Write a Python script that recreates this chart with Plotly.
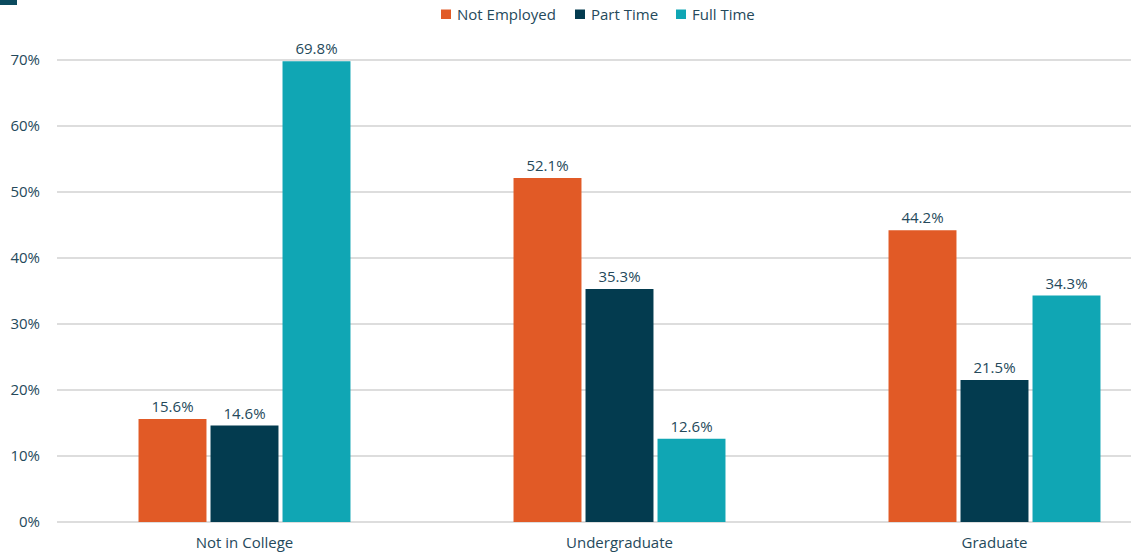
import plotly.graph_objects as go

categories = ["Not in College", "Undergraduate", "Graduate"]
not_employed = [15.6, 52.1, 44.2]
part_time = [14.6, 35.3, 21.5]
full_time = [69.8, 12.6, 34.3]
series_names = ["Not Employed", "Part Time", "Full Time"]
colors = ["#E15A26", "#033B4F", "#10A6B4"]
y_ticks = [0, 10, 20, 30, 40, 50, 60, 70]

W, H = 1131, 554
L, R, T, B = 57, 0, 48, 32
text_color = "#25495B"
font_family = "Open Sans"
FS = 15

fig = go.Figure()
for name, vals, col in zip(series_names, [not_employed, part_time, full_time], colors):
    fig.add_trace(go.Bar(
        x=categories, y=vals, name=name,
        marker=dict(color=col, line=dict(width=0)),
        text=[f"{v:.1f}%" for v in vals],
        textposition="outside",
        textfont=dict(family=font_family, size=FS, color=text_color),
        cliponaxis=False,
        showlegend=False,
    ))

plot_w = W - L - R
plot_h = H - T - B
slot = 375.0

def px_x(p):
    return (p - L) / plot_w

def px_y(p):
    return 1 - (p - T) / plot_h

# legend drawn as coloured squares + text labels (matching reference spacing)
legend_sq_left = [441, 575, 676]
legend_txt_left = [455, 589, 690]
shapes = [dict(type="rect", xref="paper", yref="paper", x0=px_x(0), x1=px_x(17),
               y0=px_y(5), y1=px_y(0), fillcolor="#0B4A5E", line=dict(width=0), layer="above")]
annotations = []
for name, col, sx, tx in zip(series_names, colors, legend_sq_left, legend_txt_left):
    shapes.append(dict(type="rect", xref="paper", yref="paper", x0=px_x(sx), x1=px_x(sx + 10),
                       y0=px_y(19), y1=px_y(9.5), fillcolor=col, line=dict(width=0), layer="above"))
    annotations.append(dict(text=name, xref="paper", yref="paper", x=px_x(tx), y=px_y(14.5),
                            xanchor="left", yanchor="middle", showarrow=False,
                            font=dict(family=font_family, size=FS, color=text_color)))

fig.update_layout(
    width=W, height=H,
    margin=dict(l=L, r=R, t=T, b=B, pad=0),
    paper_bgcolor="white", plot_bgcolor="white",
    barmode="group", bargap=0.424, bargroupgap=0.056,
    font=dict(family=font_family, size=FS, color=text_color),
    showlegend=False,
    xaxis=dict(range=[-0.5, -0.5 + plot_w / slot], showgrid=False, showline=False,
               ticks="", tickfont=dict(size=FS, color=text_color), ticklabelstandoff=10),
    yaxis=dict(range=[0, 71.8], tickvals=y_ticks, ticktext=[f"{t}%" for t in y_ticks],
               showgrid=True, gridcolor="#DDDDDD", gridwidth=1.5,
               zeroline=True, zerolinecolor="#DDDDDD", zerolinewidth=1.5,
               showline=False, ticks="", tickfont=dict(size=FS, color=text_color),
               ticklabelstandoff=16),
    shapes=shapes,
    annotations=annotations,
)

fig.write_html("out.html", config={"displayModeBar": False},
               post_script="document.body.style.margin='0';")
